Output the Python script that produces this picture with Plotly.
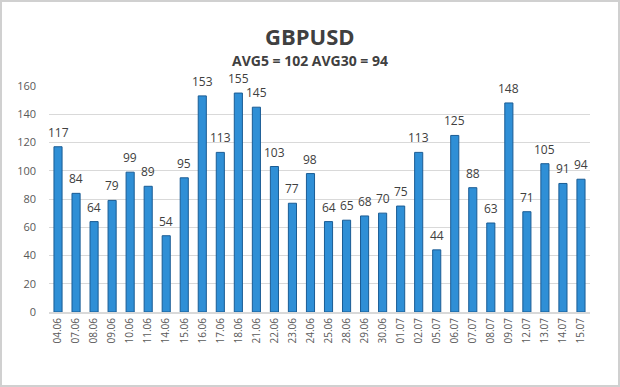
import plotly.graph_objects as go

dates = ["04.06","07.06","08.06","09.06","10.06","11.06","14.06","15.06","16.06","17.06",
         "18.06","21.06","22.06","23.06","24.06","25.06","28.06","29.06","30.06","01.07",
         "02.07","05.07","06.07","07.07","08.07","09.07","12.07","13.07","14.07","15.07"]
values = [117,84,64,79,99,89,54,95,153,113,155,145,103,77,98,64,65,68,70,75,
          113,44,125,88,63,148,71,105,91,94]
y_ticks = [0,20,40,60,80,100,120,140,160]

W, H = 620, 387
ml, mr, mt, mb = 49, 30, 86, 75
pw = W - ml - mr
ph = H - mt - mb
FONT = "Open Sans, Liberation Sans, sans-serif"

fig = go.Figure()
fig.add_trace(go.Bar(
    x=dates, y=values,
    marker=dict(color="#2F8FD6", line=dict(color="#1A5C94", width=1)),
    width=0.45, hoverinfo="x+y",
))

annotations = [
    dict(x=i, y=v, xref="x", yref="y", text=str(v), showarrow=False,
         yanchor="bottom", yshift=4,
         font=dict(family=FONT, size=12, color="#404040"))
    for i, v in enumerate(values)
]
annotations += [
    dict(text="<b>GBPUSD</b>", xref="paper", yref="paper",
         x=(W/2 - ml) / pw, y=1 + (mt - 36) / ph, showarrow=False, yanchor="middle",
         font=dict(family=FONT, size=22, color="#404040")),
    dict(text="<b>AVG5 = 102 AVG30 = 94</b>", xref="paper", yref="paper",
         x=(W/2 - ml) / pw, y=1 + (mt - 61) / ph, showarrow=False, yanchor="middle",
         font=dict(family=FONT, size=14, color="#404040")),
]

fig.update_layout(
    width=W, height=H,
    margin=dict(l=ml, r=mr, t=mt, b=mb),
    paper_bgcolor="white", plot_bgcolor="white",
    showlegend=False,
    font=dict(family=FONT, color="#595959"),
    xaxis=dict(type="category", tickangle=-90, tickfont=dict(size=10, color="#595959"),
               showgrid=False, showline=True, linecolor="#D9D9D9", linewidth=2, ticks="",
               range=[-0.5, len(dates) - 0.5], automargin=False),
    yaxis=dict(range=[0,160], tickvals=y_ticks, tickfont=dict(size=11, color="#595959"),
               showgrid=True, gridcolor="#D9D9D9", gridwidth=1, zeroline=False,
               showline=False, ticks="", ticklabelstandoff=12, automargin=False),
    annotations=annotations,
    shapes=[dict(type="rect", xref="paper", yref="paper",
                 x0=-(ml - 1) / pw, x1=1 + (mr - 1) / pw,
                 y0=-(mb - 1) / ph, y1=1 + (mt - 1) / ph,
                 line=dict(color="#D0D0D0", width=2), layer="below")],
)

fig.write_html("out.html", config={"displayModeBar": False},
               post_script="document.body.style.margin='0';document.body.style.overflow='hidden';")
